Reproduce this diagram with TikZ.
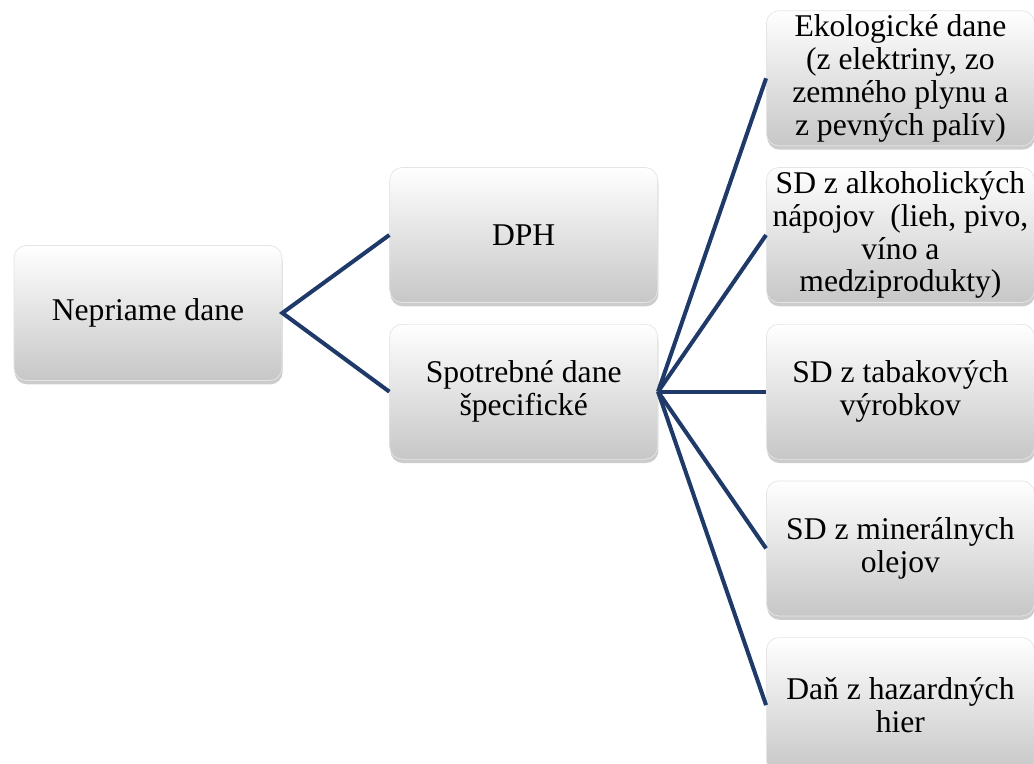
\documentclass[tikz,border=0pt]{standalone}
\usepackage{fontspec}
\setmainfont{Liberation Serif}
\usetikzlibrary{positioning,shadows}

\definecolor{linkblue}{RGB}{31,58,104}

\begin{document}
\begin{tikzpicture}[
box/.style={rectangle, rounded corners=2.5mm, draw=black!10, thin, top color=white, bottom color=black!22,
  drop shadow={shadow xshift=0.4pt, shadow yshift=-2.2pt, opacity=0.4},
  minimum width=5.36cm, minimum height=2.7cm, inner ysep=0pt, align=center,
  font=\fontsize{18}{18.7}\selectfont},
link/.style={draw=linkblue, line width=2.3pt},
node distance=0.42cm,
]
\useasboundingbox (-2.96,-9.02) rectangle (17.72,6.26);

% root and middle column
\node[box](nepriame) at (0,0) {Nepriame dane};
\node[box](dph)[right=2.14cm of nepriame, yshift=1.56cm]{DPH};
\node[box](spotrebne)[below=of dph]{Spotrebné dane\\ špecifické};

% right column
\node[box](tabak)[right=2.16cm of spotrebne]{SD z tabakových\\ výrobkov};
\node[box](alkohol)[above=of tabak]{SD z alkoholických\\ nápojov \ (lieh, pivo,\\ víno a\\ medziprodukty)};
\node[box](ekolog)[above=of alkohol]{Ekologické dane\\ (z elektriny, zo\\ zemného plynu a\\ z pevných palív)};
\node[box](mineral)[below=of tabak]{SD z minerálnych\\ olejov};
\node[box](hazard)[below=of mineral]{Daň z hazardných\\ hier};

% connectors
\draw[link] (dph.west) -- (nepriame.east) -- (spotrebne.west);
\foreach \n in {ekolog,alkohol,tabak,mineral,hazard}
  \draw[link] (spotrebne.east) -- (\n.west);

\end{tikzpicture}
\end{document}
